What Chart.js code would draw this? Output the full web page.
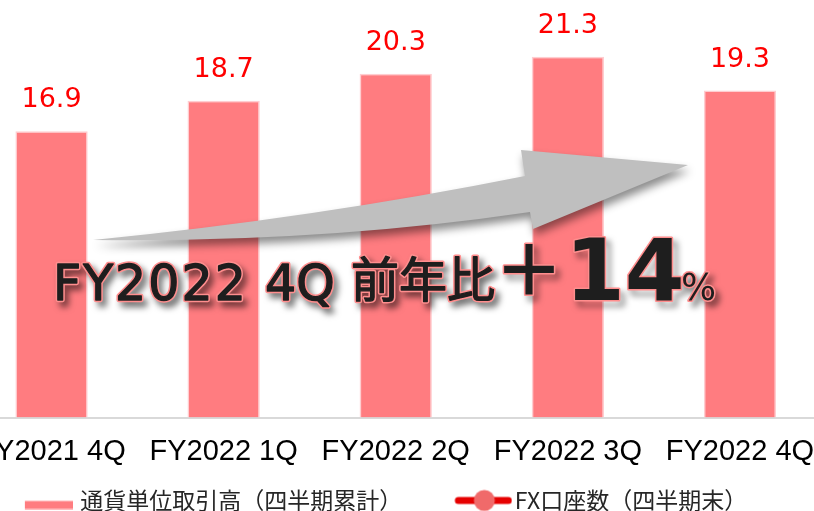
<!DOCTYPE html>
<html><head><meta charset="utf-8">
<script src="https://cdn.jsdelivr.net/npm/chart.js@4/dist/chart.umd.min.js"></script>
<style>
html,body{margin:0;padding:0;background:#fff;overflow:hidden;}
#wrap{position:relative;width:814px;height:511px;overflow:hidden;background:#fff;}
#c{position:absolute;left:-100px;top:0;}
</style></head><body>
<div id="wrap"><canvas id="c" width="940" height="522"></canvas></div>
<script>
// ---- data ----
const categories = ['FY2021 4Q', 'FY2022 1Q', 'FY2022 2Q', 'FY2022 3Q', 'FY2022 4Q'];
const volumeValues = [16.9, 18.7, 20.3, 21.3, 19.3];
const accountValues = [null, null, null, null, null];
const seriesNames = ['通貨単位取引高（四半期累計）', 'FX口座数（四半期末）'];
const headlineParts = ['FY2022', '4Q', '前年比', '＋', '14', '%'];

// ---- layout constants ----
const OX = 100;          // canvas shifted left so first category is cropped like the original
const YW = 63.5;         // invisible left axis width (centres the legend)

function makeBarSwatch() {
  const c = document.createElement('canvas'); c.width = 96; c.height = 18;
  const g = c.getContext('2d'); g.fillStyle = '#FF7C80'; g.fillRect(48, 9.5, 48, 8);
  return c;
}
function makeLineSwatch() {
  const c = document.createElement('canvas'); c.width = 106; c.height = 24;
  const g = c.getContext('2d');
  g.strokeStyle = '#E60000'; g.lineWidth = 7; g.lineCap = 'round';
  g.beginPath(); g.moveTo(52, 12); g.lineTo(102, 12); g.stroke();
  g.fillStyle = '#F06A6A'; g.beginPath(); g.arc(78, 12, 10.5, 0, Math.PI * 2); g.fill();
  return c;
}
const swatches = [makeBarSwatch(), makeLineSwatch()];

const valueLabels = {
  id: 'valueLabels',
  afterDatasetsDraw(chart) {
    const ctx = chart.ctx, meta = chart.getDatasetMeta(0);
    ctx.save();
    ctx.font = '27px "DejaVu Sans"';
    ctx.fillStyle = '#FF0000'; ctx.textAlign = 'center'; ctx.textBaseline = 'alphabetic';
    meta.data.forEach((el, i) => ctx.fillText(volumeValues[i].toFixed(1), el.x, el.y - 24));
    ctx.restore();
  }
};

function outlinedText(ctx, text, x, y, font, spacing, thicken) {
  ctx.save();
  ctx.font = font;
  ctx.letterSpacing = spacing || '0px';
  ctx.textBaseline = 'alphabetic'; ctx.textAlign = 'left';
  ctx.save();
  ctx.shadowColor = 'rgba(0,0,0,0.55)'; ctx.shadowBlur = 6; ctx.shadowOffsetX = 4; ctx.shadowOffsetY = 5;
  ctx.lineJoin = 'round'; ctx.lineWidth = 3 + (thicken || 0); ctx.strokeStyle = '#FF8E8E';
  ctx.strokeText(text, x, y);
  ctx.restore();
  ctx.fillStyle = '#1E1E1E';
  ctx.fillText(text, x, y);
  if (thicken) {
    ctx.lineJoin = 'round'; ctx.lineWidth = thicken; ctx.strokeStyle = '#1E1E1E';
    ctx.strokeText(text, x, y);
  }
  ctx.restore();
}

const overlay = {
  id: 'overlay',
  afterDraw(chart) {
    const ctx = chart.ctx;
    ctx.save();
    ctx.translate(OX, 0);
    ctx.beginPath();
    ctx.moveTo(93, 240);
    ctx.quadraticCurveTo(315, 218, 525, 176);
    ctx.lineTo(521, 150);
    ctx.lineTo(688, 165);
    ctx.lineTo(533, 229);
    ctx.lineTo(530, 212);
    ctx.quadraticCurveTo(320, 243, 93, 240);
    ctx.closePath();
    ctx.shadowColor = 'rgba(0,0,0,0.45)'; ctx.shadowBlur = 8; ctx.shadowOffsetX = 2; ctx.shadowOffsetY = 6;
    ctx.fillStyle = '#BFBFBF';
    ctx.fill();
    ctx.restore();

    ctx.save();
    ctx.translate(OX, 0);
    outlinedText(ctx, headlineParts[0], 53, 300, '49px "DejaVu Sans"', '2px', 1.3);
    outlinedText(ctx, headlineParts[1], 265, 300, '49px "DejaVu Sans"', '0px', 1.3);
    outlinedText(ctx, headlineParts[2], 351, 297, '48px "Noto Sans CJK JP"', '0px', 1.3);
    outlinedText(ctx, headlineParts[3], 494, 296, 'bold 70px "Noto Sans CJK JP"');
    outlinedText(ctx, headlineParts[4], 565, 300, 'bold 86px "DejaVu Sans"');
    outlinedText(ctx, headlineParts[5], 681, 300, '37px "DejaVu Sans"');
    ctx.restore();
  }
};

new Chart(document.getElementById('c'), {
  type: 'bar',
  data: {
    labels: categories,
    datasets: [
      { type: 'bar', label: seriesNames[0], data: volumeValues, backgroundColor: '#FF7C80',
        borderColor: '#FFCDD0', borderWidth: 1.5, barPercentage: 0.42, categoryPercentage: 1,
        yAxisID: 'y', order: 2 },
      { type: 'line', label: seriesNames[1], data: accountValues, borderColor: '#E60000',
        backgroundColor: '#F06A6A', borderWidth: 7, pointRadius: 11, yAxisID: 'y2', order: 1 }
    ]
  },
  options: {
    responsive: false, animation: false, devicePixelRatio: 1,
    layout: { autoPadding: false, padding: { left: (-34.5 + OX) - YW, right: 940 - (826 + OX), top: 0, bottom: 0 } },
    plugins: {
      tooltip: { enabled: false },
      legend: {
        position: 'bottom',
        labels: {
          usePointStyle: true, pointStyleWidth: 88, padding: 13,
          font: { family: '"Noto Sans CJK JP"', size: 23 }, color: '#262626',
          generateLabels(chart) {
            return chart.data.datasets.map((ds, i) => ({
              text: ds.label, pointStyle: swatches[i], fillStyle: 'rgba(0,0,0,0)',
              strokeStyle: 'rgba(0,0,0,0)', lineWidth: 0, hidden: false, datasetIndex: i,
              fontColor: '#262626'
            }));
          }
        }
      }
    },
    scales: {
      x: {
        grid: { display: false, drawTicks: false },
        border: { display: true, color: '#D9D9D9', width: 2 },
        ticks: { color: '#000000', font: { family: '"Liberation Sans", Arial, sans-serif', size: 29 },
                 padding: 17, maxRotation: 0, autoSkip: false },
        afterFit(s) { s.height = 58.5; }
      },
      y: {
        min: 0, max: 24.65, display: true,
        grid: { display: false, drawTicks: false }, border: { display: false },
        ticks: { display: false },
        afterFit(s) { s.width = YW; }
      },
      y2: { display: false, min: 0, max: 1, position: 'right' }
    }
  },
  plugins: [valueLabels, overlay]
});
</script>
</body></html>
